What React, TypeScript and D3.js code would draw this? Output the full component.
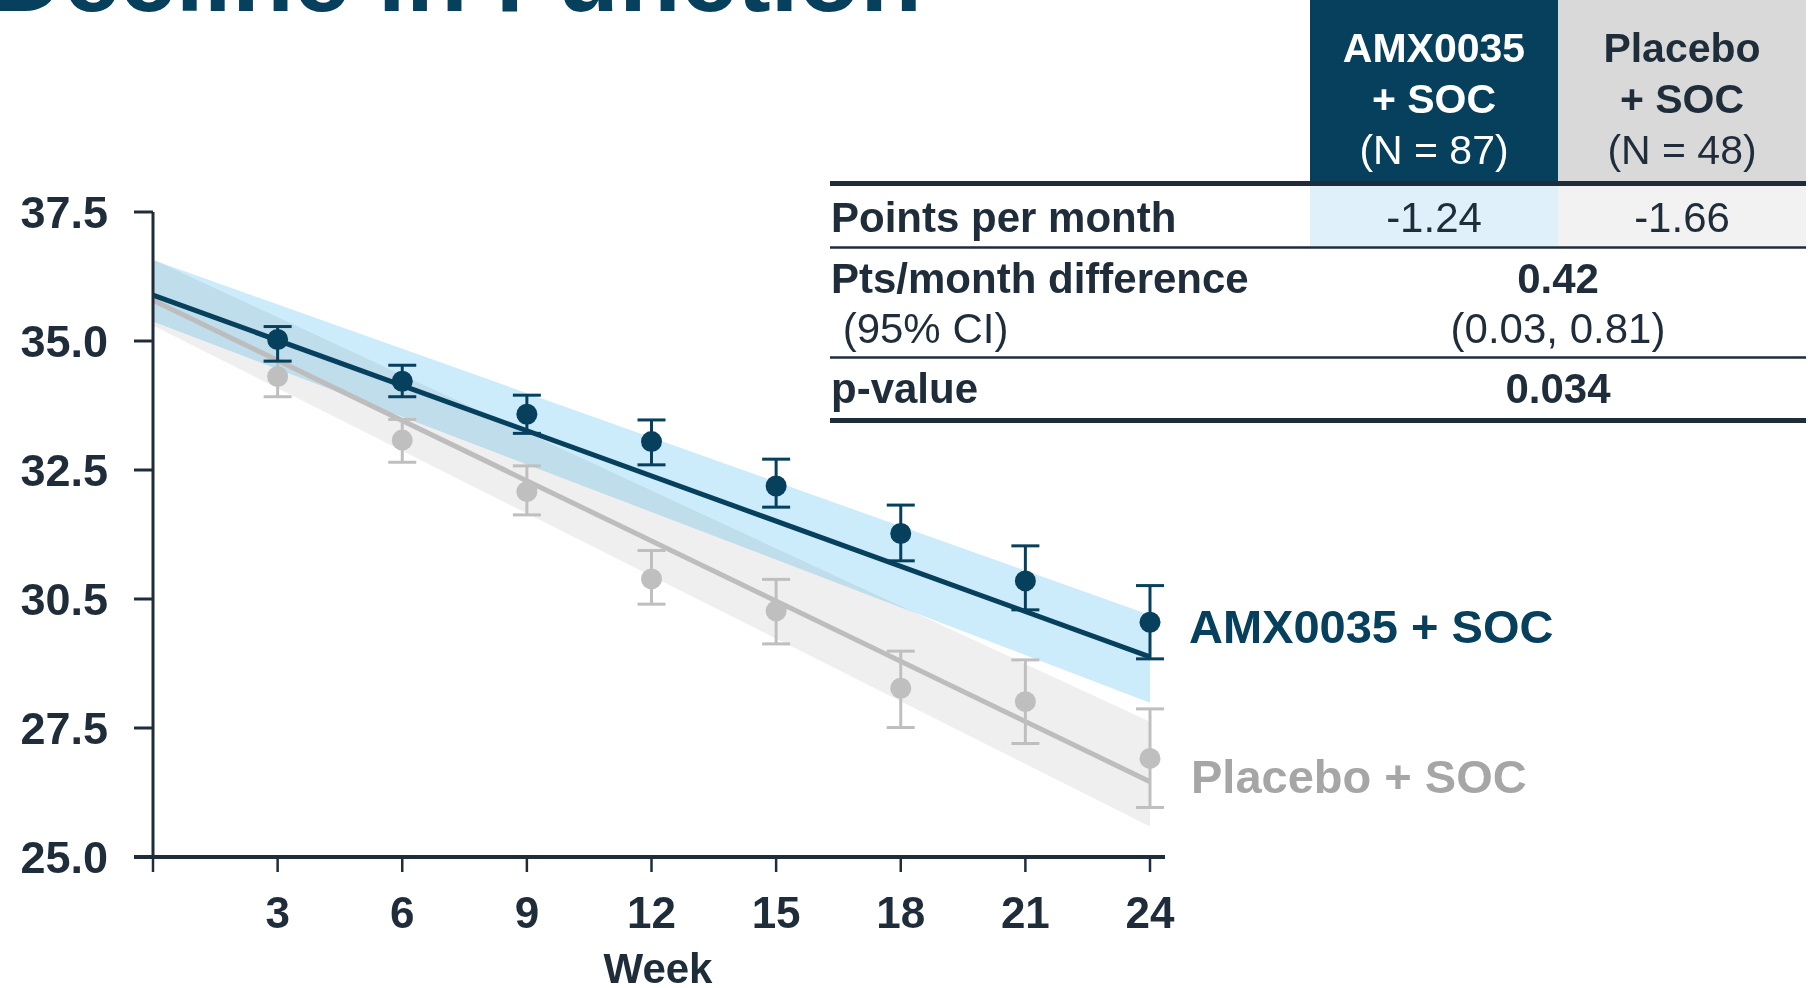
import React from "react";
import * as d3 from "d3";

// Observed visits (weeks) and per-visit means with error bar limits
const weeks = [3, 6, 9, 12, 15, 18, 21, 24];
const amxMean = [35.03, 34.22, 33.58, 33.05, 32.19, 31.27, 30.35, 29.55];
const amxHigh = [35.28, 34.53, 33.95, 33.47, 32.71, 31.82, 31.03, 30.26];
const amxLow = [34.61, 33.92, 33.21, 32.6, 31.78, 30.74, 29.79, 28.84];
const placeboMean = [34.31, 33.08, 32.08, 30.39, 29.77, 28.27, 28.01, 26.91];
const placeboHigh = [34.61, 33.48, 32.58, 30.94, 30.38, 28.99, 28.82, 27.87];
const placeboLow = [33.92, 32.65, 31.63, 29.9, 29.13, 27.51, 27.2, 25.96];

// Fitted slopes and their confidence bands (start / end of follow-up)
const fitWeeks = [0, 24];
const amxFit = [35.89, 28.88];
const amxBandHigh = [36.57, 29.69];
const amxBandLow = [35.38, 27.99];
const placeboFit = [35.79, 26.46];
const placeboBandHigh = [36.58, 27.62];
const placeboBandLow = [35.3, 25.59];

// Axes
const xTicks = [0, 3, 6, 9, 12, 15, 18, 21, 24];
const xTickLabels = ["", "3", "6", "9", "12", "15", "18", "21", "24"];
const yTicks = [25, 27.5, 30, 32.5, 35, 37.5];
const yTickLabels = ["25.0", "27.5", "30.5", "32.5", "35.0", "37.5"];

// Summary table
const amxHeader = ["AMX0035", "+ SOC", "(N = 87)"];
const placeboHeader = ["Placebo", "+ SOC", "(N = 48)"];
const pointsPerMonth = ["-1.24", "-1.66"];
const rowLabels = ["Points per month", "Pts/month difference", " (95% CI)", "p-value"];
const difference = "0.42";
const differenceCI = "(0.03, 0.81)";
const pValue = "0.034";

const TEAL = "#07405d";
const INK = "#1f2d3b";
const GREY_MARK = "#bfbfbf";
const FONT = "'Liberation Sans', Arial, Helvetica, sans-serif";

export default function App() {
  const x = d3.scaleLinear().domain([0, 24]).range([153, 1150]);
  const y = d3.scaleLinear().domain([25, 37.5]).range([857, 212]);

  const fitLine = d3
    .line<number>()
    .x((_, i) => x(fitWeeks[i]))
    .y((d) => y(d));

  const band = (low: number[], high: number[]) =>
    d3
      .area<number>()
      .x((w) => x(w))
      .y0((_, i) => y(low[i]))
      .y1((_, i) => y(high[i]))(fitWeeks) as string;

  const series = (
    mean: number[],
    low: number[],
    high: number[],
    color: string,
    key: string
  ) => (
    <g key={key}>
      {weeks.map((w, i) => (
        <g key={w}>
          <line x1={x(w)} x2={x(w)} y1={y(high[i])} y2={y(low[i])} stroke={color} strokeWidth={3} />
          <line x1={x(w) - 14} x2={x(w) + 14} y1={y(high[i])} y2={y(high[i])} stroke={color} strokeWidth={3} />
          <line x1={x(w) - 14} x2={x(w) + 14} y1={y(low[i])} y2={y(low[i])} stroke={color} strokeWidth={3} />
          <circle cx={x(w)} cy={y(mean[i])} r={10.5} fill={color} />
        </g>
      ))}
    </g>
  );

  const colA = 1434;
  const colB = 1682;
  const colMid = 1558;

  return (
    <svg
      width={1808}
      height={988}
      style={{ position: "absolute", left: 0, top: 0, background: "#ffffff" }}
      fontFamily={FONT}
    >
      {/* Title (runs off the top edge) */}
      <text x={922} y={11} textAnchor="end" fontSize={101} fontWeight="bold" fill={TEAL}>
        Decline in Function
      </text>

      {/* Confidence bands */}
      <path d={band(placeboBandLow, placeboBandHigh)} fill="#efefef" style={{ mixBlendMode: "multiply" }} />
      <path d={band(amxBandLow, amxBandHigh)} fill="#ccecfb" style={{ mixBlendMode: "multiply" }} />

      {/* Placebo fit and observed values */}
      <path d={fitLine(placeboFit) as string} stroke="#bdbdbd" strokeWidth={5} fill="none" />
      {series(placeboMean, placeboLow, placeboHigh, GREY_MARK, "placebo")}

      {/* AMX0035 fit and observed values */}
      <path d={fitLine(amxFit) as string} stroke={TEAL} strokeWidth={5} fill="none" />
      {series(amxMean, amxLow, amxHigh, TEAL, "amx")}

      {/* Y axis */}
      <line x1={153} x2={153} y1={y(37.5)} y2={y(25)} stroke={INK} strokeWidth={3} />
      {yTicks.map((t, i) => (
        <g key={t}>
          <line x1={134} x2={153} y1={y(t)} y2={y(t)} stroke={INK} strokeWidth={3} />
          <text
            x={108}
            y={y(t)}
            dy="0.36em"
            textAnchor="end"
            fontSize={45}
            fontWeight="bold"
            fill={INK}
          >
            {yTickLabels[i]}
          </text>
        </g>
      ))}

      {/* X axis */}
      <line x1={134} x2={1165} y1={y(25)} y2={y(25)} stroke={INK} strokeWidth={4} />
      {xTicks.map((t, i) => (
        <g key={t}>
          <line x1={x(t)} x2={x(t)} y1={y(25)} y2={y(25) + 15} stroke={INK} strokeWidth={2.5} />
          <text x={x(t)} y={928} textAnchor="middle" fontSize={44} fontWeight="bold" fill={INK}>
            {xTickLabels[i]}
          </text>
        </g>
      ))}
      <text x={658} y={983} textAnchor="middle" fontSize={42} fontWeight="bold" fill={INK}>
        Week
      </text>

      {/* Direct labels */}
      <text x={1189} y={643} fontSize={47} fontWeight="bold" fill={TEAL}>
        AMX0035 + SOC
      </text>
      <text x={1191} y={793} fontSize={47} fontWeight="bold" fill="#a6a6a6">
        Placebo + SOC
      </text>

      {/* Summary table */}
      <rect x={1310} y={0} width={248} height={182} fill={TEAL} />
      <rect x={1558} y={0} width={248} height={182} fill="#d9d9d9" />
      {amxHeader.map((s, i) => (
        <text
          key={"a" + i}
          x={colA}
          y={62 + i * 51}
          textAnchor="middle"
          fontSize={41}
          fontWeight={i < 2 ? "bold" : "normal"}
          fill="#ffffff"
        >
          {s}
        </text>
      ))}
      {placeboHeader.map((s, i) => (
        <text
          key={"p" + i}
          x={colB}
          y={62 + i * 51}
          textAnchor="middle"
          fontSize={41}
          fontWeight={i < 2 ? "bold" : "normal"}
          fill={INK}
        >
          {s}
        </text>
      ))}

      <rect x={1310} y={186} width={248} height={60} fill="#dff0fb" />
      <rect x={1558} y={186} width={248} height={60} fill="#f2f2f2" />

      <line x1={830} x2={1806} y1={183.5} y2={183.5} stroke={INK} strokeWidth={5} />
      <line x1={830} x2={1806} y1={247.5} y2={247.5} stroke={INK} strokeWidth={2.5} />
      <line x1={830} x2={1806} y1={357.5} y2={357.5} stroke={INK} strokeWidth={2.5} />
      <line x1={830} x2={1806} y1={420.5} y2={420.5} stroke={INK} strokeWidth={5} />

      <text x={831} y={232} fontSize={42} fontWeight="bold" fill={INK}>
        {rowLabels[0]}
      </text>
      <text x={831} y={293} fontSize={42} fontWeight="bold" fill={INK}>
        {rowLabels[1]}
      </text>
      <text x={831} y={343} fontSize={42} fill={INK} style={{ whiteSpace: "pre" }}>
        {rowLabels[2]}
      </text>
      <text x={831} y={403} fontSize={42} fontWeight="bold" fill={INK}>
        {rowLabels[3]}
      </text>

      <text x={colA} y={232} textAnchor="middle" fontSize={42} fill={INK}>
        {pointsPerMonth[0]}
      </text>
      <text x={colB} y={232} textAnchor="middle" fontSize={42} fill={INK}>
        {pointsPerMonth[1]}
      </text>
      <text x={colMid} y={293} textAnchor="middle" fontSize={42} fontWeight="bold" fill={INK}>
        {difference}
      </text>
      <text x={colMid} y={343} textAnchor="middle" fontSize={42} fill={INK}>
        {differenceCI}
      </text>
      <text x={colMid} y={403} textAnchor="middle" fontSize={42} fontWeight="bold" fill={INK}>
        {pValue}
      </text>
    </svg>
  );
}
